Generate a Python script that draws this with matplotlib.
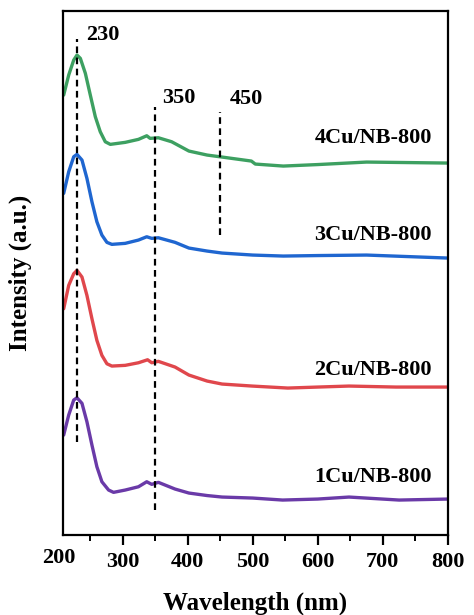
import numpy as np
import matplotlib
matplotlib.use("Agg")
import matplotlib.pyplot as plt
import matplotlib.transforms as mtransforms
from matplotlib.ticker import MultipleLocator

plt.rcParams['font.family'] = ['Liberation Serif', 'DejaVu Serif']
plt.rcParams['font.weight'] = 'bold'

# wavelength (nm) and intensity (offset, a.u.)
wl1 = [209.6, 217.3, 225, 230, 237.7, 245.3, 253, 260.6, 268.3, 278.6, 286.2, 304.1, 324.5,
       337.2, 344.9, 355.1, 380.7, 402, 430, 453, 500, 546, 600, 648, 725, 800]
i1 = [100, 120, 135, 137.3, 131.7, 113.3, 90, 68.3, 53.3, 45, 42.7, 45, 48.3,
      53.3, 50.7, 52.7, 46, 42, 39.5, 38, 37, 35, 36, 38, 35, 36]

wl2 = [209.6, 217.3, 225, 230, 237.7, 245.3, 253, 260.6, 268.3, 276, 283.6, 304.1, 324.5,
       338.5, 344.9, 355.1, 380.7, 402, 430, 453, 499, 554, 600, 648, 720, 800]
i2 = [226.3, 249.7, 261.3, 264.7, 258, 239.7, 216.3, 194.7, 179.7, 171.3, 169, 169.7, 172.3,
      175.3, 172.3, 173.7, 168, 160, 154, 151, 149, 147, 148, 149, 148, 148]

wl3 = [209.6, 217.3, 225, 230, 237.7, 245.3, 253, 260.6, 268.3, 276, 283.6, 304.1, 324.5,
       337.2, 344.9, 355.1, 380.7, 402, 430, 453, 500, 547, 600, 675, 800]
i3 = [341.7, 363.3, 378.3, 380.7, 375, 356.7, 333.3, 313.3, 300, 292.7, 290.7, 291.7, 295,
      298.3, 296.7, 297.3, 292.7, 287, 284, 282, 280, 279, 279.5, 280, 277]

wl4 = [209.6, 217.3, 225, 230, 235.2, 242.9, 250.5, 258.2, 265.8, 273.5, 281.2, 304.1, 324.5,
       337.2, 342.4, 355.1, 375.5, 402, 430, 453, 498, 504, 547, 600, 675, 800]
i4 = [440, 460, 475, 480, 476.7, 461.7, 440, 418.3, 403.3, 393.3, 390.7, 392.7, 395.7,
      399.3, 396.7, 397.3, 393.3, 384, 380, 378, 374, 371, 369, 370.5, 373, 372]

series = [(wl1, i1, "#6a3aa8", "1Cu/NB-800", 58),
          (wl2, i2, "#e0474c", "2Cu/NB-800", 165),
          (wl3, i3, "#1f66d0", "3Cu/NB-800", 300),
          (wl4, i4, "#3da061", "4Cu/NB-800", 397)]

# peak marker lines: position, bottom, top, label spot
peaks = [230, 350, 450]
peak_bottom = [93, 25, 300]
peak_top = [496, 428, 423]
peak_lab_x = [243.4, 361, 464]
peak_lab_y = [500, 437, 436]

fig = plt.figure(figsize=(4.74, 6.15), dpi=100)
ax = fig.add_axes([0.133, 0.130, 0.812, 0.852])

for wl, inten, col, name, ly in series:
    ax.plot(wl, inten, color=col, lw=2.4, solid_capstyle='round', solid_joinstyle='round')
    ax.text(775, ly, name, ha='right', va='center', fontsize=16, fontweight='bold')

for p, b, t, lx, lyy in zip(peaks, peak_bottom, peak_top, peak_lab_x, peak_lab_y):
    ax.plot([p, p], [b, t], color='black', lw=1.6, ls=(0, (3, 2)))
    ax.text(lx, lyy, str(p), ha='left', va='center', fontsize=16, fontweight='bold')

ax.set_xlim(208.6, 800)
ax.set_ylim(0, 524)
ax.set_yticks([])
ax.xaxis.set_major_locator(MultipleLocator(100))
ax.xaxis.set_minor_locator(MultipleLocator(50))
ax.tick_params(axis='x', which='major', direction='out', length=7, width=1.6, labelsize=16, pad=5)
ax.tick_params(axis='x', which='minor', direction='out', length=4, width=1.4)
for lab in ax.get_xticklabels():
    lab.set_fontweight('bold')
for s in ax.spines.values():
    s.set_linewidth(1.6)

# 200 label sits just left of the axis start
trans = mtransforms.blended_transform_factory(ax.transData, ax.transAxes)
ax.text(202, -0.024, "200", transform=trans, ha='center', va='top', fontsize=16,
        fontweight='bold', clip_on=False)

ax.set_xlabel("Wavelength (nm)", fontsize=18, fontweight='bold', labelpad=14)
ax.set_ylabel("Intensity (a.u.)", fontsize=18, fontweight='bold', labelpad=22)

fig.savefig("out.png", dpi=100)
